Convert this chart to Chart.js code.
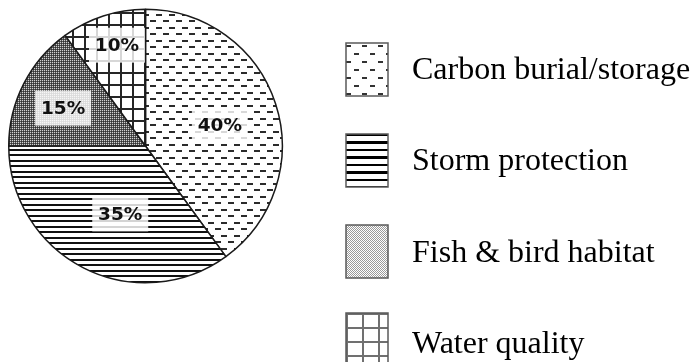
<!DOCTYPE html>
<html>
<head>
<meta charset="utf-8">
<script src="https://cdn.jsdelivr.net/npm/chart.js@4/dist/chart.umd.min.js"></script>
<style>
  html, body { margin: 0; padding: 0; background: #fff; }
  #wrap { width: 692px; height: 362px; }
</style>
</head>
<body>
<div id="wrap"><canvas id="chart" width="692" height="362"></canvas></div>
<script>
// Share of wetland value by ecosystem service
const categories = ['Carbon burial/storage', 'Storm protection', 'Fish & bird habitat', 'Water quality'];
const shares = [40, 35, 15, 10];
const shareLabels = ['40%', '35%', '15%', '10%'];

// Where each percentage label sits: fraction of the radius, and a small turn (degrees) off the slice middle
const labelSpots = [
  { r: 0.565, turn: 2.3 },
  { r: 0.53, turn: -6.6 },
  { r: 0.663, turn: -2.3 },
  { r: 0.766, turn: 2.2 }
];

// Black-and-white fill patterns
function tile(w, h, paint) {
  const c = document.createElement('canvas');
  c.width = w; c.height = h;
  const g = c.getContext('2d');
  g.fillStyle = '#fff';
  g.fillRect(0, 0, w, h);
  paint(g);
  return g.createPattern(c, 'repeat');
}

// Slice fills
const dashFill = tile(13, 13, g => {
  g.fillStyle = '#2b2b2b';
  g.fillRect(0, 1, 6, 2);
  g.fillRect(7, 7, 6, 2);
});
const stripeFill = tile(4, 11, g => {
  g.fillStyle = '#111';
  g.fillRect(0, 0, 4, 2);
  g.fillRect(0, 6, 4, 2);
});
const dotFill = tile(2, 2, g => {
  g.fillStyle = '#d2d2d2'; g.fillRect(0, 0, 1, 1);
  g.fillStyle = '#555';    g.fillRect(1, 0, 1, 1);
  g.fillStyle = '#555';    g.fillRect(0, 1, 1, 1);
  g.fillStyle = '#333';    g.fillRect(1, 1, 1, 1);
});
const gridFill = tile(12, 12, g => {
  g.fillStyle = '#262626';
  g.fillRect(0, 0, 2, 12);
  g.fillRect(0, 0, 12, 2);
});
const fills = [dashFill, stripeFill, dotFill, gridFill];

// Legend swatch fills: same motifs, drawn coarser and lighter
const swatchFills = [
  tile(16, 16, g => {
    g.fillStyle = '#333';
    g.fillRect(0, 2, 5, 2);
    g.fillRect(8, 10, 5, 2);
  }),
  tile(4, 15, g => {
    g.fillStyle = '#000';
    g.fillRect(0, 0, 4, 2);
    g.fillRect(0, 7, 4, 3);
  }),
  tile(2, 2, g => {
    g.fillStyle = '#9a9a9a';
    g.fillRect(1, 0, 1, 1);
    g.fillRect(0, 1, 1, 1);
  }),
  tile(16, 14, g => {
    g.fillStyle = '#707070';
    g.fillRect(0, 0, 2, 14);
    g.fillRect(0, 0, 16, 2);
  })
];

// Percentage labels on light boxes
const sliceLabels = {
  id: 'sliceLabels',
  afterDatasetsDraw(chart) {
    const ctx = chart.ctx;
    const arcs = chart.getDatasetMeta(0).data;
    ctx.save();
    arcs.forEach((arc, i) => {
      const p = arc.getProps(['x', 'y', 'startAngle', 'endAngle', 'outerRadius'], true);
      const a = (p.startAngle + p.endAngle) / 2 + labelSpots[i].turn * Math.PI / 180;
      const rr = p.outerRadius * labelSpots[i].r;
      const cx = p.x + Math.cos(a) * rr;
      const cy = p.y + Math.sin(a) * rr;
      ctx.fillStyle = 'rgba(255,255,255,0.82)';
      ctx.fillRect(cx - 28, cy - 17.5, 56, 35);
      ctx.fillStyle = '#111';
      ctx.font = 'bold 18.5px "DejaVu Sans"';
      ctx.textAlign = 'center';
      ctx.textBaseline = 'middle';
      ctx.fillText(shareLabels[i], cx, cy + 1);
    });
    ctx.restore();
  }
};

// Legend with tall patterned swatches and serif captions
const swatchLegend = {
  id: 'swatchLegend',
  afterDraw(chart) {
    const ctx = chart.ctx;
    const tops = [43, 134, 225, 313];
    const baselines = [79, 170, 262, 353];
    ctx.save();
    chart.data.labels.forEach((label, i) => {
      const x = 346, y = tops[i], w = 42, h = 53;
      ctx.save();
      ctx.translate(x, y);
      ctx.fillStyle = swatchFills[i];
      ctx.fillRect(0, 0, w, h);
      ctx.restore();
      ctx.strokeStyle = '#5a5a5a';
      ctx.lineWidth = 1.5;
      ctx.strokeRect(x, y, w, h);
      ctx.fillStyle = '#000';
      ctx.font = '32px "Liberation Serif"';
      ctx.textAlign = 'left';
      ctx.textBaseline = 'alphabetic';
      ctx.fillText(label, 412, baselines[i]);
    });
    ctx.restore();
  }
};

new Chart(document.getElementById('chart'), {
  type: 'pie',
  data: {
    labels: categories,
    datasets: [{
      data: shares,
      backgroundColor: fills,
      borderColor: '#1a1a1a',
      borderWidth: 1.5
    }]
  },
  options: {
    responsive: false,
    animation: false,
    layout: { padding: { left: 8, top: 8.5, right: 409, bottom: 78.5 } },
    plugins: {
      legend: { display: false },
      tooltip: { enabled: false }
    }
  },
  plugins: [sliceLabels, swatchLegend]
});
</script>
</body>
</html>
